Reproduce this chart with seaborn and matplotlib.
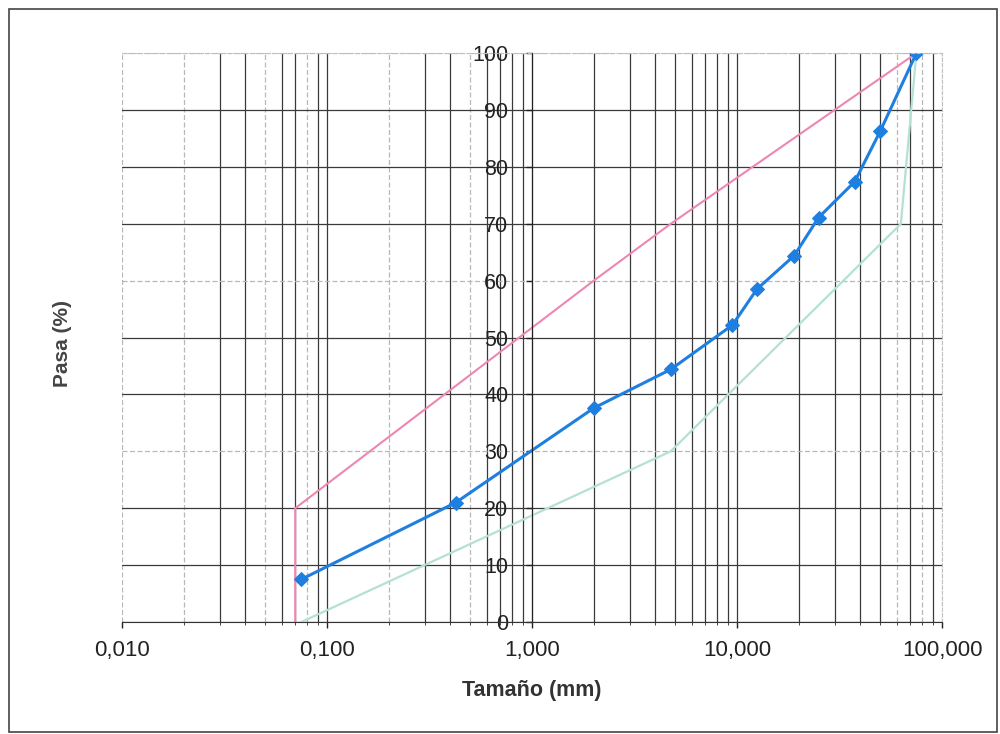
import numpy as np
import pandas as pd
import seaborn as sns
import matplotlib.pyplot as plt
from matplotlib.ticker import LogLocator, FuncFormatter, NullFormatter
from matplotlib.patches import Rectangle

# curva granulometrica (muestra)
tamano_muestra = [0.075, 0.425, 2.0, 4.75, 9.5, 12.5, 19.0, 25.0, 37.5, 50.0, 75.0]
pasa_muestra = [7.5, 21.0, 37.6, 44.4, 52.2, 58.5, 64.4, 71.1, 77.4, 86.3, 100.0]

# limite superior (rosa)
tamano_sup = [0.07, 0.07, 2.0, 4.75, 75.0]
pasa_sup = [0.0, 20.0, 60.0, 70.0, 100.0]

# limite inferior (verde claro)
tamano_inf = [0.075, 4.75, 63.0, 75.0]
pasa_inf = [0.0, 30.0, 70.0, 100.0]

x_ticks = [0.01, 0.1, 1, 10, 100]
y_ticks = list(range(0, 101, 10))

# lineas de grilla que salen tenues en la copia impresa
grilla_tenue_x = [0.01, 0.02, 0.05, 0.08, 0.2, 0.5, 60, 80, 100]
grilla_tenue_y = [30, 60, 100]

sns.set_style('white')
plt.rcParams['font.family'] = ['Liberation Sans', 'DejaVu Sans']

fig = plt.figure(figsize=(10, 7.34), dpi=100)
ax = fig.add_axes([0.122, 0.1526, 0.82, 0.775])
ax.set_xscale('log')

grid_color = '#3a3a3a'
ax.grid(True, which='both', axis='x', color=grid_color, lw=0.9)
ax.grid(True, which='major', axis='y', color=grid_color, lw=0.9)
ax.set_axisbelow(True)

sup = pd.DataFrame({'tamano': tamano_sup, 'pasa': pasa_sup})
inf = pd.DataFrame({'tamano': tamano_inf, 'pasa': pasa_inf})
mue = pd.DataFrame({'tamano': tamano_muestra, 'pasa': pasa_muestra})

sns.lineplot(data=inf, x='tamano', y='pasa', estimator=None, sort=False,
             color='#b5e0d6', lw=1.6, ax=ax)
sns.lineplot(data=sup, x='tamano', y='pasa', estimator=None, sort=False,
             color='#ee86b4', lw=1.5, ax=ax)
sns.lineplot(data=mue, x='tamano', y='pasa', estimator=None, sort=False,
             color='#1f7fe0', lw=2.2, marker='D', markersize=7,
             markeredgecolor='#1f7fe0', ax=ax)

ax.set_xlim(0.01, 100)
ax.set_ylim(0, 100)

ax.xaxis.set_major_locator(LogLocator(base=10))
ax.xaxis.set_minor_locator(LogLocator(base=10, subs=np.arange(2, 10)))
ax.xaxis.set_minor_formatter(NullFormatter())
ax.set_xticks(x_ticks)
ax.xaxis.set_major_formatter(FuncFormatter(lambda v, p: f"{v:.3f}".replace('.', ',')))
ax.set_yticks(y_ticks)
ax.yaxis.set_major_formatter(FuncFormatter(lambda v, p: f"{int(v)}"))

# eje Y cruza en x = 1 (como en Excel)
ax.spines['left'].set_position(('data', 1))
ax.spines['left'].set_color('#222222')
ax.spines['bottom'].set_color('#333333')
for s in ['top', 'right']:
    ax.spines[s].set_color('#c0c0c0')
    ax.spines[s].set_linewidth(0.8)
    ax.spines[s].set_linestyle((0, (3, 2)))

ax.tick_params(axis='x', which='major', direction='out', length=4, width=1,
               pad=9, labelsize=16, colors='#222222', bottom=True)
ax.tick_params(axis='x', which='minor', direction='out', length=2, bottom=True)
ax.tick_params(axis='y', which='major', direction='out', length=4, width=1,
               pad=13, labelsize=15.5, colors='#222222', left=True)

ax.set_xlabel('Tamaño (mm)', fontsize=15.5, fontweight='bold', color='#333333', labelpad=14)
ax.set_ylabel('')
fig.text(0.063, 0.532, 'Pasa (%)', rotation=90, ha='center', va='center',
         fontsize=15, fontweight='bold', color='#444444')

# aclarar algunas lineas de grilla
fig.canvas.draw()
for loc, tick in zip(ax.xaxis.get_majorticklocs(), ax.xaxis.get_major_ticks()):
    if any(np.isclose(loc, v) for v in grilla_tenue_x):
        tick.gridline.set_color('#b8b8b8')
        tick.gridline.set_linestyle((0, (4, 2)))
for loc, tick in zip(ax.xaxis.get_minorticklocs(), ax.xaxis.get_minor_ticks()):
    if any(np.isclose(loc, v) for v in grilla_tenue_x):
        tick.gridline.set_color('#b8b8b8')
        tick.gridline.set_linestyle((0, (4, 2)))
for loc, tick in zip(ax.yaxis.get_majorticklocs(), ax.yaxis.get_major_ticks()):
    if any(np.isclose(loc, v) for v in grilla_tenue_y):
        tick.gridline.set_color('#b8b8b8')
        tick.gridline.set_linestyle((0, (4, 2)))

# marco del grafico
fig.patches.append(Rectangle((0.009, 0.003), 0.988, 0.985, transform=fig.transFigure,
                             fill=False, edgecolor='#444444', lw=1.2))

fig.savefig('out.png', dpi=100)
